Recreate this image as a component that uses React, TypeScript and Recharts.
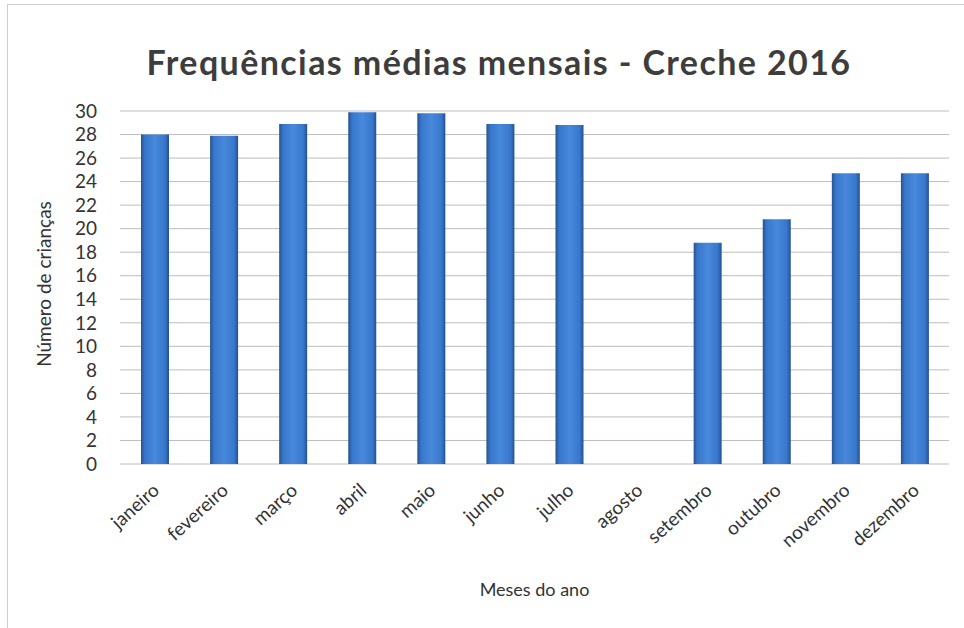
import { BarChart, Bar, XAxis, YAxis, CartesianGrid, Label } from 'recharts';

const months = [
  'janeiro', 'fevereiro', 'março', 'abril', 'maio', 'junho',
  'julho', 'agosto', 'setembro', 'outubro', 'novembro', 'dezembro',
];
const children = [28, 27.9, 28.9, 29.9, 29.8, 28.9, 28.8, 0, 18.8, 20.8, 24.7, 24.7];
const yTicks = [0, 2, 4, 6, 8, 10, 12, 14, 16, 18, 20, 22, 24, 26, 28, 30];

const data = months.map((month, i) => ({ month, value: children[i] }));

const font = 'Lato, "Open Sans", sans-serif';
const textColor = '#333333';

function MonthTick({ x, y, payload }: any) {
  return (
    <g transform={`translate(${x + 6},${y + 20})`}>
      <text
        textAnchor="end"
        transform="rotate(-42)"
        fill={textColor}
        fontSize={19}
        fontFamily={font}
      >
        {payload.value}
      </text>
    </g>
  );
}

function YTitle() {
  const cx = 51;
  const cy = 284;
  return (
    <text
      x={cx}
      y={cy}
      transform={`rotate(-90 ${cx} ${cy})`}
      textAnchor="middle"
      fill={textColor}
      fontSize={19}
      fontFamily={font}
    >
      Número de crianças
    </text>
  );
}

export default function App() {
  return (
    <div
      style={{
        position: 'absolute',
        left: 0,
        top: 0,
        width: 964,
        height: 628,
        background: '#fff',
        overflow: 'hidden',
      }}
    >
      <div
        style={{
          position: 'absolute',
          left: 7,
          top: 4,
          width: 970,
          height: 640,
          borderTop: '1px solid #cfcfcf',
          borderLeft: '1px solid #cfcfcf',
        }}
      />
      <div
        style={{
          position: 'absolute',
          left: 0,
          top: 39,
          width: 998,
          textAlign: 'center',
          fontFamily: font,
          fontWeight: 700,
          fontSize: 34,
          letterSpacing: 1.4,
          color: '#3d3d3d',
          lineHeight: '46px',
        }}
      >
        Frequências médias mensais - Creche 2016
      </div>
      <BarChart
        width={964}
        height={628}
        data={data}
        margin={{ top: 111, right: 15, bottom: 30, left: 0 }}
        barSize={28}
      >
        <defs>
          <linearGradient id="barBlue" x1="0" y1="0" x2="1" y2="0">
            <stop offset="0%" stopColor="#23528f" />
            <stop offset="14%" stopColor="#3877cc" />
            <stop offset="50%" stopColor="#4889dc" />
            <stop offset="86%" stopColor="#3877cc" />
            <stop offset="100%" stopColor="#23528f" />
          </linearGradient>
        </defs>
        <CartesianGrid vertical={false} stroke="#bcbcbc" />
        <XAxis
          dataKey="month"
          axisLine={false}
          tickLine={false}
          interval={0}
          height={134}
          tick={<MonthTick />}
        >
          <Label
            value="Meses do ano"
            position="insideBottom"
            offset={2}
            fill={textColor}
            fontSize={18}
            fontFamily={font}
          />
        </XAxis>
        <YAxis
          width={120}
          domain={[0, 30]}
          ticks={yTicks}
          interval={0}
          axisLine={false}
          tickLine={false}
          tickMargin={17}
          tick={{ fill: textColor, fontSize: 19, fontFamily: font }}
        >
          <Label content={<YTitle />} />
        </YAxis>
        <Bar dataKey="value" fill="url(#barBlue)" isAnimationActive={false} />
      </BarChart>
    </div>
  );
}
